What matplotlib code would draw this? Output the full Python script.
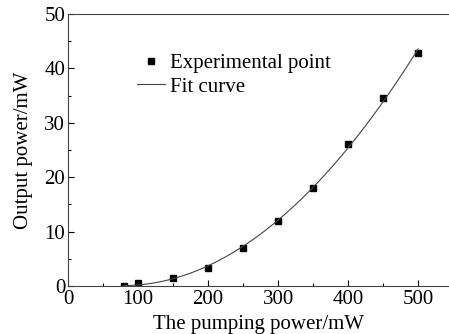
import numpy as np
import matplotlib.pyplot as plt
from matplotlib.ticker import MultipleLocator

plt.rcParams['font.family'] = ['Liberation Serif', 'DejaVu Serif']

# 实验数据
pump = [80, 100, 150, 200, 250, 300, 350, 400, 450, 500]
output = [0.05, 0.5, 1.4, 3.4, 6.9, 12.0, 18.0, 26.1, 34.6, 42.8]

# 二次拟合
coef = np.polyfit(pump, output, 2)
roots = np.roots(coef)
roots = [r.real for r in roots if abs(r.imag) < 1e-9 and 0 < r.real < 150]
x0 = max(roots) if roots else pump[0]
x_fit = np.linspace(x0, 500, 200)
y_fit = np.polyval(coef, x_fit)

fig = plt.figure(figsize=(4.49, 3.34), dpi=100)
ax = fig.add_axes([68/449, 48/334, 1 - 68/449, 272/334])

ax.plot(pump, output, 's', color='black', markersize=4.5, label='Experimental point')
ax.plot(x_fit, y_fit, '-', color='#444444', linewidth=0.8, label='Fit curve')

ax.set_xlim(0, 544)
ax.set_ylim(0, 50)
ax.xaxis.set_major_locator(MultipleLocator(100))
ax.xaxis.set_minor_locator(MultipleLocator(50))
ax.yaxis.set_major_locator(MultipleLocator(10))
ax.yaxis.set_minor_locator(MultipleLocator(5))
ax.tick_params(which='both', direction='in', top=False, right=False, labelsize=15, width=0.8)
ax.tick_params(axis='x', pad=3)
ax.tick_params(axis='y', pad=2)
ax.tick_params(which='major', length=4)
ax.tick_params(which='minor', length=2)
ax.spines['right'].set_visible(False)
for s in ['left', 'bottom', 'top']:
    ax.spines[s].set_linewidth(0.8)
    ax.spines[s].set_color('#444444')

ax.set_xlabel('The pumping power/mW', fontsize=15, labelpad=4)
ax.set_ylabel('Output power/mW', fontsize=15, labelpad=8)

ax.legend(loc='upper left', bbox_to_anchor=(0.181, 0.855), frameon=False, fontsize=15,
          handlelength=1.35, handletextpad=0.25, labelspacing=0.2, borderaxespad=0, borderpad=0)

fig.savefig('out.png', dpi=100)
